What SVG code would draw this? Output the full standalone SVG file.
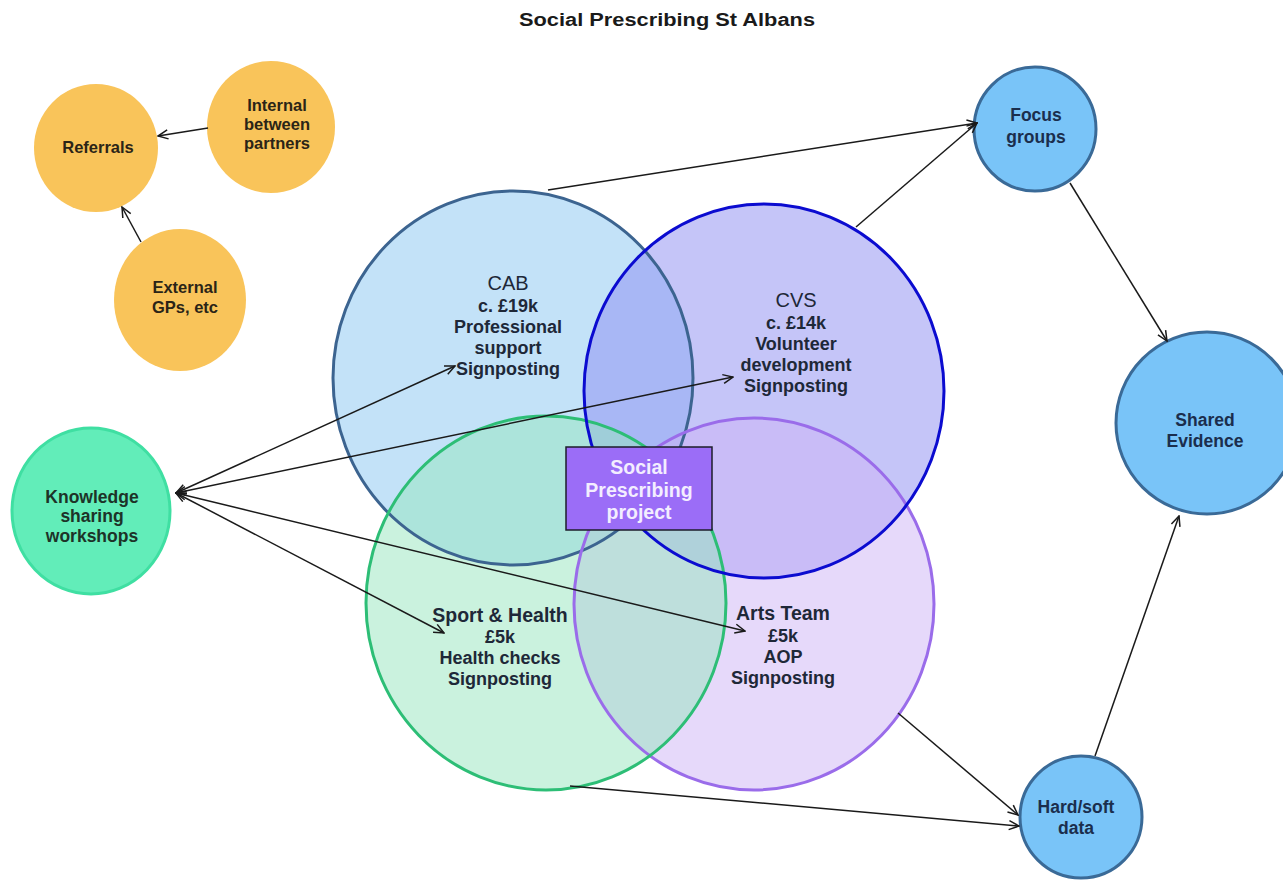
<svg xmlns="http://www.w3.org/2000/svg" width="1283" height="880" viewBox="0 0 1283 880">
<style>
text{font-family:"Liberation Sans",Arial,sans-serif;font-weight:bold;text-anchor:middle}
.title{font-size:18px;fill:#1a1a1a}
.org{fill:#F9C45A}
.org-t{font-size:16.5px;fill:#2b2417}
.know{fill:#62EDB9;stroke:#3FDFA2;stroke-width:3}
.know-t{font-size:17.5px;fill:#1d3328}
.blue{fill:#79C4F8;stroke:#3A6A97;stroke-width:3}
.blue-t{font-size:17.5px;fill:#1b2e4d}
.venn-h{font-size:20px;font-weight:normal;fill:#1e2838}
.venn-h2{font-size:19.5px;fill:#1e2838}
.venn-t{font-size:18px;fill:#1e2838}
.outline{fill:none;stroke-width:3}
.conn{stroke:#1a1a1a;stroke-width:1.5;fill:none}
.box{fill:#9B6DF7;stroke:#1d1d2b;stroke-width:1.5}
.box-t{font-size:19.5px;fill:#F3EEFF}
</style>
<defs>
<marker id="arr" viewBox="0 0 12 12" refX="11" refY="6" markerWidth="12" markerHeight="12" markerUnits="userSpaceOnUse" orient="auto-start-reverse">
<path d="M1,1.5 L11,6 L1,10.5" fill="none" stroke="#1a1a1a" stroke-width="1.5"/>
</marker>
</defs>
<rect width="1283" height="880" fill="#ffffff"/>
<text class="title" x="667" y="26" textLength="296" lengthAdjust="spacingAndGlyphs">Social Prescribing St Albans</text>

<g id="node-referrals">
<ellipse class="org" cx="96" cy="148" rx="62" ry="64"/>
<text class="org-t" x="98" y="153">Referrals</text>
</g>
<g id="node-internal">
<ellipse class="org" cx="271" cy="127" rx="64" ry="66"/>
<text class="org-t" x="277" y="111">Internal</text>
<text class="org-t" x="277" y="130">between</text>
<text class="org-t" x="277" y="149">partners</text>
</g>
<g id="node-external">
<ellipse class="org" cx="180" cy="300" rx="66" ry="71"/>
<text class="org-t" x="185" y="293">External</text>
<text class="org-t" x="185" y="313">GPs, etc</text>
</g>

<g id="node-cab">
<ellipse cx="513" cy="378" rx="180" ry="187" fill="#C3E2F8"/>
</g>
<g id="node-cvs">
<ellipse cx="764" cy="391" rx="180" ry="187" fill="#9090F2" fill-opacity="0.52"/>
</g>
<g id="node-arts">
<ellipse cx="754" cy="604" rx="180" ry="186" fill="#CDB4F5" fill-opacity="0.5"/>
</g>
<g id="node-sport">
<ellipse cx="546" cy="603" rx="180" ry="187" fill="#96E6BE" fill-opacity="0.5"/>
</g>
<g id="venn-outlines">
<ellipse class="outline" cx="513" cy="378" rx="180" ry="187" stroke="#3C6490"/>
<ellipse class="outline" cx="754" cy="604" rx="180" ry="186" stroke="#9A6CEA"/>
<ellipse class="outline" cx="546" cy="603" rx="180" ry="187" stroke="#2DBE76"/>
<ellipse class="outline" cx="764" cy="391" rx="180" ry="187" stroke="#0B0BD0"/>
</g>

<g id="labels-venn">
<text class="venn-h" x="508" y="290">CAB</text>
<text class="venn-t" x="508" y="312">c. £19k</text>
<text class="venn-t" x="508" y="333">Professional</text>
<text class="venn-t" x="508" y="354">support</text>
<text class="venn-t" x="508" y="375">Signposting</text>
<text class="venn-h" x="796" y="307">CVS</text>
<text class="venn-t" x="796" y="329">c. £14k</text>
<text class="venn-t" x="796" y="350">Volunteer</text>
<text class="venn-t" x="796" y="371">development</text>
<text class="venn-t" x="796" y="392">Signposting</text>
<text class="venn-h2" x="500" y="622">Sport &amp; Health</text>
<text class="venn-t" x="500" y="643">£5k</text>
<text class="venn-t" x="500" y="664">Health checks</text>
<text class="venn-t" x="500" y="685">Signposting</text>
<text class="venn-h2" x="783" y="620">Arts Team</text>
<text class="venn-t" x="783" y="642">£5k</text>
<text class="venn-t" x="783" y="663">AOP</text>
<text class="venn-t" x="783" y="684">Signposting</text>
</g>

<g id="node-project">
<rect class="box" x="566" y="447" width="146" height="83"/>
<text class="box-t" x="639" y="474">Social</text>
<text class="box-t" x="639" y="497">Prescribing</text>
<text class="box-t" x="639" y="519">project</text>
</g>

<g id="node-knowledge">
<ellipse class="know" cx="91" cy="511" rx="79" ry="83"/>
<text class="know-t" x="92" y="503">Knowledge</text>
<text class="know-t" x="92" y="522">sharing</text>
<text class="know-t" x="92" y="542">workshops</text>
</g>

<g id="node-focus">
<ellipse class="blue" cx="1035" cy="129" rx="61" ry="62"/>
<text class="blue-t" x="1036" y="121">Focus</text>
<text class="blue-t" x="1036" y="143">groups</text>
</g>
<g id="node-shared">
<ellipse class="blue" cx="1207" cy="423" rx="91" ry="91"/>
<text class="blue-t" x="1205" y="426">Shared</text>
<text class="blue-t" x="1205" y="447">Evidence</text>
</g>
<g id="node-hardsoft">
<ellipse class="blue" cx="1081" cy="817" rx="61" ry="61"/>
<text class="blue-t" x="1076" y="813">Hard/soft</text>
<text class="blue-t" x="1076" y="834">data</text>
</g>

<g id="connectors">
<line class="conn" x1="208" y1="128" x2="158" y2="136" marker-end="url(#arr)"/>
<line class="conn" x1="141" y1="242" x2="122" y2="207" marker-end="url(#arr)"/>
<line class="conn" x1="548" y1="190" x2="977" y2="123" marker-end="url(#arr)"/>
<line class="conn" x1="856" y1="227" x2="977" y2="123" marker-end="url(#arr)"/>
<line class="conn" x1="1070" y1="183" x2="1167" y2="341" marker-end="url(#arr)"/>
<line class="conn" x1="1095" y1="756" x2="1179" y2="516" marker-end="url(#arr)"/>
<line class="conn" x1="898" y1="713" x2="1018" y2="815" marker-end="url(#arr)"/>
<line class="conn" x1="570" y1="786" x2="1019" y2="826" marker-end="url(#arr)"/>
<line class="conn" x1="176" y1="493" x2="455" y2="366" marker-start="url(#arr)" marker-end="url(#arr)"/>
<line class="conn" x1="176" y1="493" x2="733" y2="377" marker-start="url(#arr)" marker-end="url(#arr)"/>
<line class="conn" x1="176" y1="493" x2="444" y2="633" marker-start="url(#arr)" marker-end="url(#arr)"/>
<line class="conn" x1="176" y1="493" x2="745" y2="631" marker-start="url(#arr)" marker-end="url(#arr)"/>
</g>
</svg>
